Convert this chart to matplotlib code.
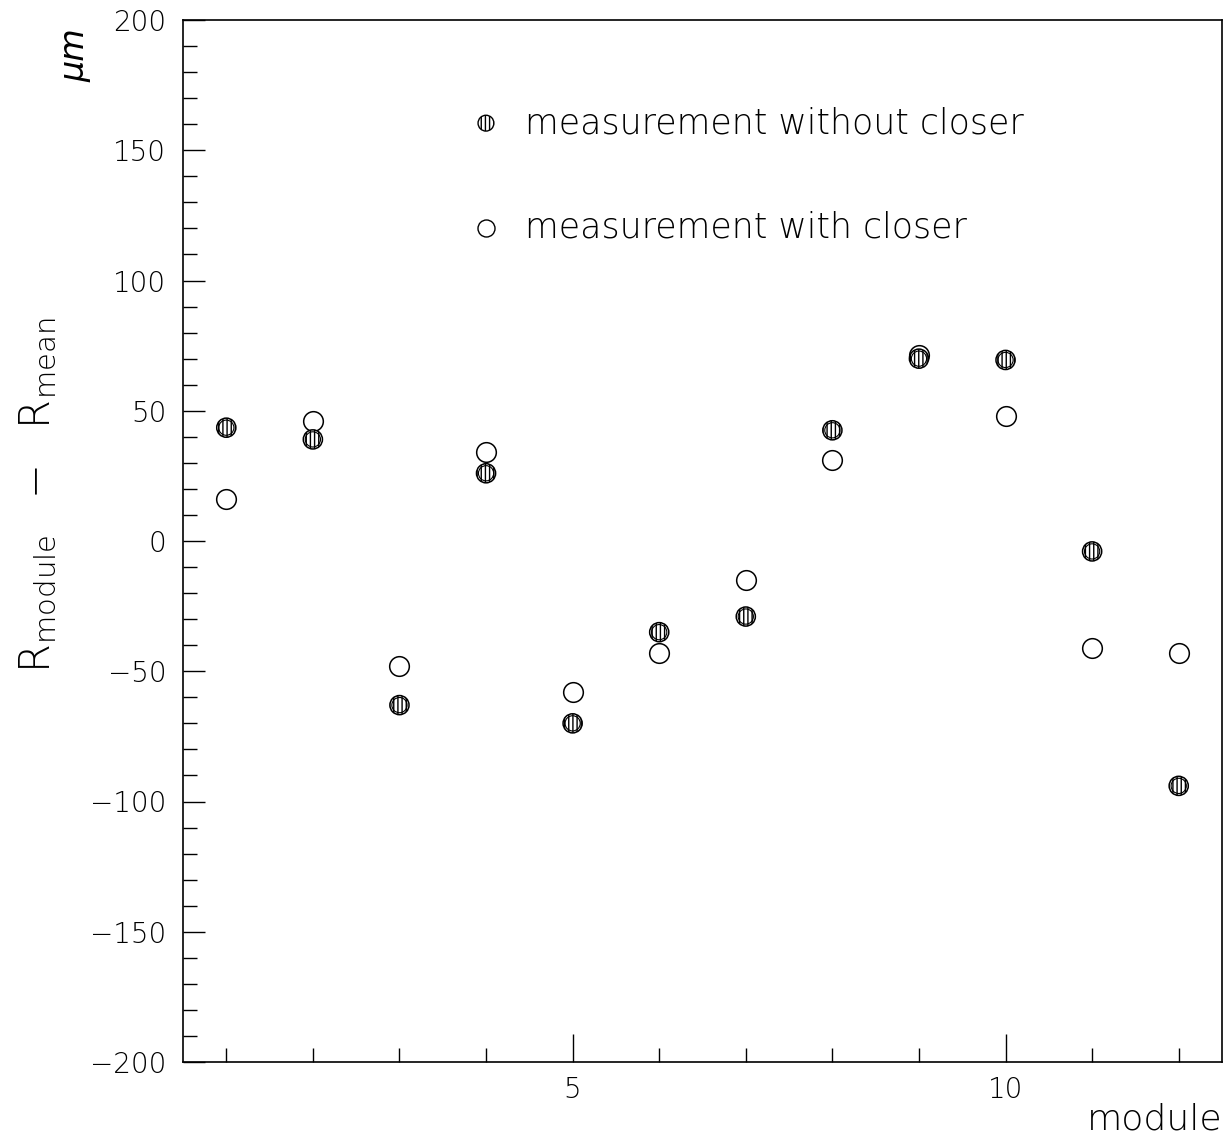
import matplotlib
matplotlib.use("Agg")
import matplotlib.pyplot as plt
from matplotlib.ticker import MultipleLocator

modules = [1, 2, 3, 4, 5, 6, 7, 8, 9, 10, 11, 12]
without_closer = [43.5, 39, -63, 26, -70, -35, -29, 42.5, 70, 69.5, -4, -94]
with_closer = [16, 46, -48, 34, -58, -43, -15, 31, 71.5, 48, -41, -43]
legend_labels = ["measurement without closer", "measurement with closer"]

plt.rcParams['hatch.linewidth'] = 1.0
fig = plt.figure(figsize=(12.31, 11.40), dpi=100)
ax = fig.add_axes([183/1231, 78/1140, 1039/1231, 1042/1140])

ax.scatter(modules, with_closer, s=200, marker='o',
           facecolors='white', edgecolors='black', linewidths=1.1, zorder=3)
ax.scatter(modules, without_closer, s=190, marker='o', facecolors='white',
           edgecolors='black', linewidths=1.1, hatch='||||', zorder=4)
ax.scatter(modules, without_closer, s=120, marker='o', facecolors='none',
           edgecolors='black', linewidths=0.8, zorder=5)

ax.set_xlim(0.5, 12.5)
ax.set_ylim(-200, 200)
ax.xaxis.set_major_locator(MultipleLocator(5))
ax.xaxis.set_minor_locator(MultipleLocator(1))
ax.yaxis.set_major_locator(MultipleLocator(50))
ax.yaxis.set_minor_locator(MultipleLocator(10))
ax.tick_params(which='both', direction='in', top=False, right=False, width=1.0)
ax.tick_params(axis='x', which='major', length=20, labelsize=20, pad=10)
ax.tick_params(axis='x', which='minor', length=10)
ax.tick_params(axis='y', which='major', length=16, labelsize=20, pad=12)
ax.tick_params(axis='y', which='minor', length=10)
ax.yaxis.set_major_formatter(plt.FuncFormatter(lambda v, p: f"{int(v)}".replace('-', '\u2212')))
for lab in ax.get_xticklabels() + ax.get_yticklabels():
    lab.set_fontweight('light')
for sp in ax.spines.values():
    sp.set_linewidth(1.2)

# legend
ax.scatter([0.2916], [0.901], transform=ax.transAxes, s=130, marker='o', facecolors='white',
           edgecolors='black', linewidths=1.0, hatch='||||', clip_on=False)
ax.scatter([0.2916], [0.8004], transform=ax.transAxes, s=150, marker='o', facecolors='white',
           edgecolors='black', linewidths=1.0, clip_on=False)
ax.text(0.329, 0.901, legend_labels[0], transform=ax.transAxes, fontsize=25,
        va='center', ha='left', fontweight='light')
ax.text(0.329, 0.8004, legend_labels[1], transform=ax.transAxes, fontsize=25,
        va='center', ha='left', fontweight='light')

fig.text(0.9927, 1 - 1120/1140, "module", fontsize=26, ha='right', va='center', fontweight='light')
fig.text(38/1231, 1 - 495/1140, r"$\mathregular{R_{module}\ \ -\ \ R_{mean}}$", fontsize=30,
         rotation=90, ha='center', va='center', fontweight='light')
fig.text(75/1231, 1 - 55/1140, "\u03bcm", fontsize=24, rotation=90, ha='center', va='center',
         fontweight='light', fontstyle='italic')

fig.savefig("out.png", dpi=100)
